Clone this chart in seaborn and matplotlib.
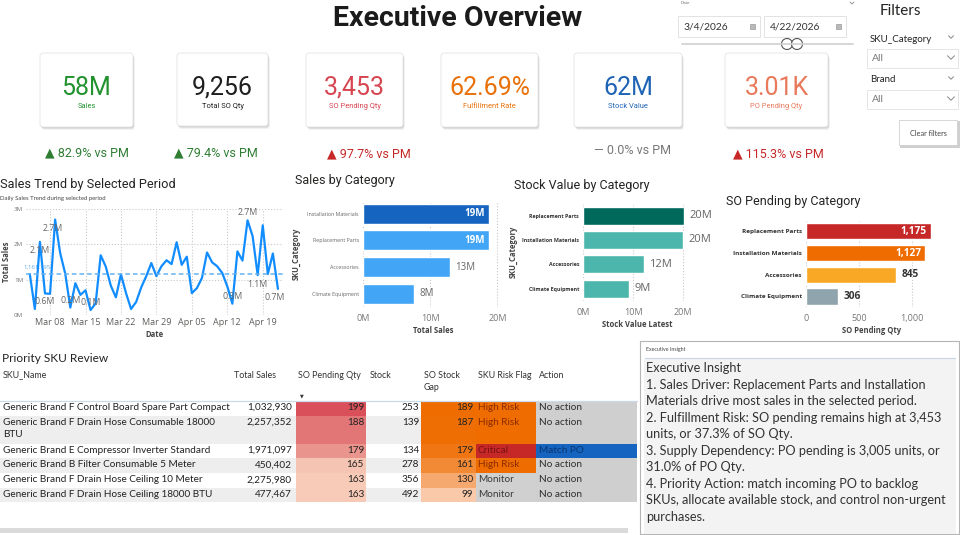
import textwrap
import numpy as np
import pandas as pd
import matplotlib
matplotlib.use('Agg')
import matplotlib.pyplot as plt
import matplotlib.dates as mdates
from matplotlib.patches import FancyBboxPatch, Rectangle, Circle
from matplotlib.colors import LinearSegmentedColormap
import seaborn as sns

sns.set_theme(style='white')
plt.rcParams['font.family'] = ['Open Sans', 'DejaVu Sans']

#=========================================================================================
# Data
#=========================================================================================
kpi_labels = ['Sales', 'Total SO Qty', 'SO Pending Qty', 'Fulfillment Rate', 'Stock Value', 'PO Pending Qty']
kpi_values = ['58M', '9,256', '3,453', '62.69%', '62M', '3.01K']
kpi_deltas = ['▲ 82.9% vs PM', '▲ 79.4% vs PM', '▲ 97.7% vs PM', '', '— 0.0% vs PM', '▲ 115.3% vs PM']

date_from, date_to = '3/4/2026', '4/22/2026'
filter_names = ['SKU_Category', 'Brand']

trend_dates = pd.date_range('2026-03-04', '2026-04-22', freq='D')
trend_sales_m = [1.16, 0.17, 2.07, 0.61, 0.60, 2.70, 1.75, 1.17, 0.21, 0.90,
                 0.57, 0.70, 0.14, 0.33, 1.69, 1.37, 0.83, 0.50, 1.15, 0.62,
                 0.17, 0.37, 0.78, 1.10, 1.47, 1.10, 1.38, 1.55, 1.44, 2.06,
                 1.42, 1.65, 0.62, 0.76, 1.05, 1.77, 1.49, 1.38, 1.19, 0.81,
                 0.32, 1.80, 1.54, 2.68, 2.23, 1.13, 2.54, 1.16, 1.74, 0.74]
trend_avg = 1161195

sales_cats = ['Installation Materials', 'Replacement Parts', 'Accessories', 'Climate Equipment']
sales_m = [18.8, 18.7, 12.95, 7.55]

stock_cats = ['Replacement Parts', 'Installation Materials', 'Accessories', 'Climate Equipment']
stock_m = [20.2, 20.0, 12.1, 9.2]

pending_cats = ['Replacement Parts', 'Installation Materials', 'Accessories', 'Climate Equipment']
pending_qty = [1175, 1127, 845, 306]

sku_names = ['Generic Brand F Control Board Spare Part Compact',
             'Generic Brand F Drain Hose Consumable 18000 BTU',
             'Generic Brand E Compressor Inverter Standard',
             'Generic Brand B Filter Consumable 5 Meter',
             'Generic Brand F Drain Hose Ceiling 10 Meter',
             'Generic Brand F Drain Hose Ceiling 18000 BTU']
sku_sales = [1032930, 2257352, 1971097, 450402, 2275980, 477467]
sku_pending = [199, 188, 179, 165, 163, 163]
sku_stock = [253, 139, 134, 278, 356, 492]
sku_gap = [189, 187, 179, 161, 130, 99]
sku_risk = ['High Risk', 'High Risk', 'Critical', 'High Risk', 'Monitor', 'Monitor']
sku_action = ['No action', 'No action', 'Match PO', 'No action', 'No action', 'No action']

insight_lines = ['Executive Insight',
                 '1. Sales Driver: Replacement Parts and Installation',
                 'Materials drive most sales in the selected period.',
                 '2. Fulfillment Risk: SO pending remains high at 3,453',
                 'units, or 37.3% of SO Qty.',
                 '3. Supply Dependency: PO pending is 3,005 units, or',
                 '31.0% of PO Qty.',
                 '4. Priority Action: match incoming PO to backlog',
                 'SKUs, allocate available stock, and control non-urgent',
                 'purchases.']

#=========================================================================================
# Figure + pixel helpers
#=========================================================================================
W, H = 960, 535
fig = plt.figure(figsize=(9.6, 5.35), dpi=100)
fig.patch.set_facecolor('white')
bg = fig.add_axes([0, 0, 1, 1], zorder=-1)
bg.set_xlim(0, W)
bg.set_ylim(H, 0)
bg.axis('off')

DIN = ['Roboto', 'DejaVu Sans']
UI = ['Lato', 'DejaVu Sans']
TITLE_C = '#252423'
AXIS_C = '#605E5C'


def panel(x, y, w, h):
    return fig.add_axes([x / W, 1 - (y + h) / H, w / W, h / H])


def chevron(x, y, s=3.0, color='#777'):
    bg.plot([x - s, x, x + s], [y - s / 2, y + s / 2, y - s / 2], color=color, lw=0.7)


# Title
bg.text(458, 18, 'Executive Overview', ha='center', va='center', fontsize=20.5,
        fontweight='bold', color='#1B1B1B', family=['Liberation Sans Narrow', 'Roboto', 'DejaVu Sans'])

#------------------------------------------------
# KPI cards
card_boxes = [(40, 53, 93, 74), (177, 53, 91, 73), (306, 53, 97, 74),
              (441, 53, 97, 74), (574, 53, 108, 74), (725, 53, 103, 74)]
kpi_colors = ['#22922F', '#1F1F1F', '#D64550', '#E8710A', '#1F63B5', '#E9795B']
delta_pos = [(87, 153), (216, 153), (369, 154), None, (632, 150), (778, 154)]
delta_colors = ['#2E7D32', '#2E7D32', '#C62828', None, '#777777', '#C62828']

for (x, y, w, h), val, lab, col in zip(card_boxes, kpi_values, kpi_labels, kpi_colors):
    for off, a in [(3.0, 0.05), (2.0, 0.07), (1.0, 0.08)]:
        bg.add_patch(FancyBboxPatch((x + off * 0.6, y + off), w, h,
                                    boxstyle='round,pad=0,rounding_size=3',
                                    fc='black', ec='none', alpha=a))
    bg.add_patch(FancyBboxPatch((x, y), w, h, boxstyle='round,pad=0,rounding_size=3',
                                fc='white', ec='#E4E4E4', lw=0.6))
    bg.text(x + w / 2, y + 35, val, ha='center', va='center', fontsize=18, color=col, family=DIN)
    bg.text(x + w / 2, y + 53, lab, ha='center', va='center', fontsize=5.4, color=col, family=DIN)

for txt, pos, col in zip(kpi_deltas, delta_pos, delta_colors):
    if pos is None:
        continue
    bg.text(pos[0], pos[1], txt, ha='center', va='center', fontsize=9, color=col, family=DIN)

#------------------------------------------------
# Date slicer
bg.text(681, 3, 'Date', fontsize=3.2, color='#666', va='center')
chevron(852, 3, 2, '#999')
for bx, txt in [(678, date_from), (764, date_to)]:
    bg.add_patch(Rectangle((bx, 16), 82, 21, fc='white', ec='#E3E3E3', lw=0.7))
    bg.text(bx + 6, 26.5, txt, fontsize=7.4, color='#333', va='center', family=UI)
    bg.add_patch(Rectangle((bx + 72, 24), 4.5, 4.5, fc='#BBBBBB', ec='#888', lw=0.4))
bg.plot([682, 853], [44, 44], color='#D0D0D0', lw=1.2)
for cx in [787, 797]:
    bg.add_patch(Circle((cx, 44), 5.5, fc='white', ec='#555', lw=0.8))

#------------------------------------------------
# Filters pane
bg.text(880, 11, 'Filters', fontsize=11, color='#252423', va='center', family=UI)
for i, name in enumerate(filter_names):
    yy = 39 + i * 41
    bg.text(870, yy, name, fontsize=7, color='#252423', va='center', family=UI)
    chevron(951, yy - 2, 2.5, '#888')
    bg.add_patch(Rectangle((867, yy + 10), 91, 19, fc='white', ec='#E6E6E6', lw=0.7))
    bg.text(872, yy + 19.5, 'All', fontsize=7.5, color='#777', va='center', family=UI)
    chevron(951, yy + 18.5, 3.5, '#888')
bg.add_patch(Rectangle((900, 121), 60, 27, fc='#BBBBBB', ec='none', alpha=0.7))
bg.add_patch(Rectangle((899, 120), 58, 25, fc='white', ec='#D0D0D0', lw=0.6))
bg.text(928, 133, 'Clear filters', fontsize=5.2, color='#444', ha='center', va='center', family=UI)

#=========================================================================================
# Sales trend line chart
#=========================================================================================
bg.text(0, 184.5, 'Sales Trend by Selected Period', fontsize=9.2, color=TITLE_C, va='center', family=DIN)
bg.text(0, 198.5, 'Daily Sales Trend during selected period', fontsize=4.3, color='#444', va='center', family=UI)

ax = panel(26, 209, 257, 106)
trend = pd.DataFrame({'Date': trend_dates, 'Total Sales': trend_sales_m})
sns.lineplot(data=trend, x='Date', y='Total Sales', ax=ax, color='#118DFF', lw=1.6)
ax.axhline(trend_avg / 1e6, color='#66B2EE', lw=1.1, ls=(0, (3, 2)))
ax.annotate(f'{trend_avg:,}', xy=(0, trend_avg / 1e6), xycoords=('axes fraction', 'data'),
            xytext=(-2, 4.5), textcoords='offset points', fontsize=4.3, color='#5AA9E6', va='center')
ax.set_ylim(0, 3)
ax.set_yticks([0, 1, 2, 3])
ax.set_yticklabels(['0M', '1M', '2M', '3M'])
ax.set_xlim(trend_dates[0] - pd.Timedelta(hours=18), trend_dates[-1] + pd.Timedelta(hours=24))
ax.xaxis.set_major_locator(mdates.WeekdayLocator(byweekday=mdates.SU))
ax.xaxis.set_major_formatter(mdates.DateFormatter('%b %d'))
ax.grid(True, ls=':', color='#C8C8C8', lw=0.8)
sns.despine(ax=ax, left=True, bottom=True)
ax.tick_params(axis='y', labelsize=4.5, colors='#777', pad=2, length=0)
ax.tick_params(axis='x', labelsize=6.5, colors=AXIS_C, pad=2, length=0)
ax.set_xlabel('Date', fontsize=5.5, color='#444', fontweight='bold', labelpad=2)
ax.set_ylabel('Total Sales', fontsize=5.5, color='#444', fontweight='bold', labelpad=2)

# data labels: (index, dx px, dy px)
trend_label_pts = [(2, 0, -8.5), (5, -2, -8.5), (3, 0, -8), (8, 0, 7), (12, 0, 8),
                   (40, 0, 7.5), (43, 0, 7.5), (45, 0, -9), (49, -3, -8.5)]
for i, dx, dy in trend_label_pts:
    ax.annotate(f'{trend_sales_m[i]:.1f}M', xy=(trend_dates[i], trend_sales_m[i]),
                xytext=(dx * 0.72, dy * 0.72), textcoords='offset points',
                ha='center', va='center', fontsize=6.3, color='#666')

#=========================================================================================
# Category bar charts
#=========================================================================================
def hbar(rect, cats, vals, colors, xlim, xticks, xticklabels, xlabel, labels, inside,
         title, title_xy, cat_size, cat_color, cat_weight, lab_size, out_color, out_weight):
    a = panel(*rect)
    sns.barplot(x=vals, y=cats, hue=cats, palette=colors, orient='h', width=0.75,
                saturation=1, legend=False, ax=a)
    a.set_xlim(*xlim)
    a.set_xticks(xticks)
    a.set_xticklabels(xticklabels)
    a.xaxis.grid(True, ls=':', color='#C8C8C8', lw=0.8)
    sns.despine(ax=a, left=True, bottom=True)
    a.tick_params(axis='x', labelsize=6.5, colors='#777', pad=5, length=0)
    a.tick_params(axis='y', length=0, pad=3, labelsize=cat_size, labelcolor=cat_color)
    for t in a.get_yticklabels():
        t.set_fontweight(cat_weight)
    a.set_xlabel(xlabel, fontsize=5.5, color='#444', fontweight='bold', labelpad=2)
    for p, lab, ins in zip(a.patches, labels, inside):
        yc = p.get_y() + p.get_height() / 2
        if ins:
            a.annotate(lab, xy=(p.get_width(), yc), xytext=(-3, 0), textcoords='offset points',
                       ha='right', va='center', fontsize=lab_size, color='white', fontweight='bold')
        else:
            a.annotate(lab, xy=(p.get_width(), yc), xytext=(4, 0), textcoords='offset points',
                       ha='left', va='center', fontsize=lab_size, color=out_color, fontweight=out_weight)
    bg.text(title_xy[0], title_xy[1], title, fontsize=9, color=TITLE_C, va='center', family=DIN)
    return a


ax2 = hbar((363, 200.5, 140, 106.5), sales_cats, sales_m,
           ['#1565C0', '#42A5F5', '#42A5F5', '#42A5F5'], (0, 20.83), [0, 10, 20],
           ['0M', '10M', '20M'], 'Total Sales', [f'{v:.0f}M' for v in sales_m],
           [True, True, False, False], 'Sales by Category', (295, 180.5),
           3.8, '#666', 'normal', 7, '#666', 'normal')
ax2.set_ylabel('SKU_Category', fontsize=5.5, color='#444', fontweight='bold', labelpad=5)

ax3 = hbar((583.3, 203.5, 108, 97.3), stock_cats, stock_m,
           ['#00695C', '#4DB6AC', '#4DB6AC', '#4DB6AC'], (0, 21.6), [0, 10, 20],
           ['0M', '10M', '20M'], 'Stock Value Latest', [f'{v:.0f}M' for v in stock_m],
           [False] * 4, 'Stock Value by Category', (514, 185),
           3.8, '#333', 'bold', 8, '#666', 'normal')
ax3.set_ylabel('SKU_Category', fontsize=5.5, color='#444', fontweight='bold', labelpad=3)

ax4 = hbar((806, 220.5, 132, 86.8), pending_cats, pending_qty,
           ['#C62828', '#EF6C00', '#F9A825', '#90A4AE'], (0, 1245), [0, 500, 1000],
           ['0', '500', '1,000'], 'SO Pending Qty', [f'{v:,}' for v in pending_qty],
           [True, True, False, False], 'SO Pending by Category', (726, 201.5),
           4.6, '#333', 'bold', 7.3, '#333', 'bold')
ax4.set_ylabel('')

#=========================================================================================
# Priority SKU table
#=========================================================================================
bg.text(2, 358, 'Priority SKU Review', fontsize=8.6, color=TITLE_C, va='center', family=UI)
headers = [('SKU_Name', 3, 'left'), ('Total Sales', 234, 'left'), ('SO Pending Qty', 298, 'left'),
           ('Stock', 370, 'left'), ('SO Stock\nGap', 424, 'left'), ('SKU Risk Flag', 478, 'left'),
           ('Action', 539, 'left')]
for txt, hx, ha in headers:
    bg.text(hx, 370.5, txt, fontsize=6.4, color='#333', va='top',
            ha=ha, family=UI, linespacing=1.45)
bg.text(302, 395.5, '▼', fontsize=3.5, color='#333', ha='center', va='center')
bg.plot([0, 637], [400.5, 400.5], color='#C9DAEA', lw=0.9)

row_edges = [400.7, 415.7, 443.7, 458.3, 473.3, 487.7, 501.7]
pend_cmap = LinearSegmentedColormap.from_list('pend', ['#F8CBB8', '#D9505A'])
gap_cmap = LinearSegmentedColormap.from_list('gap', ['#F9C9AA', '#EF6C00'])
risk_style = {'High Risk': ('#EF6C00', '#8A2A00'), 'Critical': ('#C62828', '#7A1212'),
              'Monitor': ('#D0D0D0', '#3A3A3A')}
action_style = {'No action': ('#CFCFCF', '#2E2E2E'), 'Match PO': ('#1565C0', '#0B3470')}
pmin, pmax = min(sku_pending), max(sku_pending)
gmin, gmax = min(sku_gap), max(sku_gap)

for r in range(len(sku_names)):
    y0, y1 = row_edges[r], row_edges[r + 1]
    rh = y1 - y0
    yt = y0 + 2.0
    bg.add_patch(Rectangle((0, y0), 637, rh, fc='white' if r % 2 == 0 else '#EEEEEE', ec='none'))
    bg.add_patch(Rectangle((296, y0), 70, rh, fc=pend_cmap((sku_pending[r] - pmin) / (pmax - pmin)), ec='none'))
    bg.add_patch(Rectangle((421, y0), 54.5, rh, fc=gap_cmap((sku_gap[r] - gmin) / (gmax - gmin)), ec='none'))
    rc, rt = risk_style[sku_risk[r]]
    bg.add_patch(Rectangle((475.5, y0), 60, rh, fc=rc, ec='none'))
    ac, at = action_style[sku_action[r]]
    bg.add_patch(Rectangle((535.5, y0), 101.5, rh, fc=ac, ec='none'))
    name = sku_names[r] if rh < 20 else textwrap.fill(sku_names[r], 43)
    kw = dict(fontsize=7.2, va='top', family=UI, linespacing=1.5)
    bg.text(3, yt, name, color='#222', ha='left', **kw)
    bg.text(292, yt, f'{sku_sales[r]:,}', color='#222', ha='right', **kw)
    bg.text(364, yt, f'{sku_pending[r]}', color='#222', ha='right', **kw)
    bg.text(419, yt, f'{sku_stock[r]}', color='#222', ha='right', **kw)
    bg.text(473, yt, f'{sku_gap[r]}', color='#222', ha='right', **kw)
    bg.text(478, yt, sku_risk[r], color=rt, ha='left', **kw)
    bg.text(539, yt, sku_action[r], color=at, ha='left', **kw)

bg.add_patch(Rectangle((0, 527.5), 628, 5, fc='#DADADA', ec='none'))

#=========================================================================================
# Executive insight box
#=========================================================================================
bg.add_patch(Rectangle((640, 341), 319, 193, fc='white', ec='#B5B5B5', lw=0.8))
bg.add_patch(Rectangle((644, 358.5), 312, 175, fc='#F3F3F3', ec='none'))
bg.text(646, 349, 'Executive Insight', fontsize=3.8, color='#444', va='center', family=UI)
bg.plot([645, 955], [357.5, 357.5], color='#C9D6E2', lw=0.8)
for i, line in enumerate(insight_lines):
    bg.text(646, 368 + i * 16.52, line, fontsize=9.2, color='#333', va='center', family=UI)

plt.savefig('out.png', dpi=100, facecolor='white')
plt.close()
